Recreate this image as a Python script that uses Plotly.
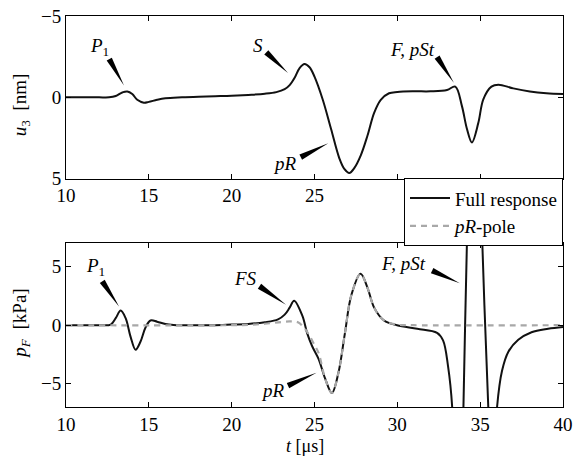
import math
import plotly.graph_objects as go

# top panel: vertical displacement u3 [nm]
t_u3 = [10, 11, 12, 12.6, 13.0, 13.4, 13.7, 14.0, 14.3, 14.7, 15.0, 15.5, 16, 17, 18, 19, 20, 21, 22,
        22.7, 23.2, 23.5, 23.8, 24.1, 24.4, 24.7, 25.0, 25.5, 26.0, 26.5, 26.8, 27.1, 27.4, 27.8, 28.2,
        28.6, 29.0, 29.5, 30.0, 31, 32, 33, 33.5, 33.9, 34.2, 34.5, 34.89, 35.19, 35.68, 36.1, 37, 38,
        39, 40]
u3 = [0, 0, 0, 0, -0.08, -0.3, -0.36, -0.2, 0.15, 0.33, 0.28, 0.15, 0.06, 0.0, -0.04, -0.07, -0.1, -0.15,
      -0.22, -0.32, -0.5, -0.75, -1.2, -1.8, -2.05, -1.85, -1.27, 0.15, 1.95, 3.75, 4.4, 4.65, 4.35, 3.55,
      2.35, 0.95, 0.15, -0.25, -0.33, -0.37, -0.37, -0.45, -0.66, 0.54, 1.93, 2.77, 1.57, 0.12, -0.66,
      -0.78, -0.55, -0.36, -0.25, -0.2]

# bottom panel: fluid pressure pF [kPa], full response
t_pf = [10, 12, 12.7, 13.0, 13.3, 13.6, 13.9, 14.2, 14.5, 14.8, 15.1, 15.5, 16, 16.5, 17, 18, 19, 20, 21, 22,
        22.8, 23.2, 23.5, 23.77, 24.27, 24.56, 24.86, 25.25, 25.65, 26.05, 26.44, 26.83, 27.23, 27.78,
        28.2, 28.6, 29.2, 29.98, 31.2, 32.4, 32.76, 33.06, 33.31, 33.55, 33.8, 33.99, 34.2, 34.45, 34.9,
        35.13, 35.49, 35.7, 35.85, 36.02, 36.32, 36.71, 37.3, 38.1, 39.1, 40]
pf = [0, 0, 0.05, 0.6, 1.25, 0.6, -1.0, -2.1, -1.4, -0.2, 0.4, 0.3, 0.1, 0.02, 0, 0, 0, 0.05, 0.1, 0.25,
      0.5, 0.9, 1.5, 2.1, 0.8, -0.7, -1.8, -2.9, -4.6, -5.8, -4.1, -0.75, 2.6, 4.4,
      3.2, 1.5, 0.4, 0.0, -0.3, -0.65, -1.3, -3.5, -7, -20, -20, -7, 7, 20, 20,
      7, -7, -14, -12, -7, -3.9, -2.25, -1.25, -0.6, -0.3, -0.15]

# bottom panel: pR-pole contribution
t_pole = [10, 20, 21, 22, 23, 23.5, 24.0, 24.47, 25.0, 25.25, 25.65, 26.05, 26.44, 26.83, 27.23, 27.78,
          28.2, 28.6, 29.2, 29.98, 31, 40]
pole = [0, 0, 0.03, 0.12, 0.27, 0.32, 0.25, -0.4, -1.7, -2.4, -4.6, -5.8, -4.1, -0.75, 2.6, 4.4,
        3.2, 1.5, 0.4, 0.05, 0, 0]

W, H = 579, 457
ML, MR, MT, MB = 66, 6, 8, 50
PW, PH = W - ML - MR, H - MT - MB
TOP_DOM = [0.584, 1.0]
BOT_DOM = [0.0, 0.4185]
XR = [10, 40]
TOP_R = [5, -5]
BOT_R = [-7, 7]
FONT = "Liberation Serif"


def px(t, v, dom, yr):
    x = ML + (t - XR[0]) / (XR[1] - XR[0]) * PW
    ytop = MT + (1 - dom[1]) * PH
    ybot = MT + (1 - dom[0]) * PH
    y = ybot - (v - yr[0]) / (yr[1] - yr[0]) * (ybot - ytop)
    return x, y


def data(x, y, dom, yr):
    t = XR[0] + (x - ML) / PW * (XR[1] - XR[0])
    ytop = MT + (1 - dom[1]) * PH
    ybot = MT + (1 - dom[0]) * PH
    v = yr[0] + (ybot - y) / (ybot - ytop) * (yr[1] - yr[0])
    return t, v


def wedge(tail, tip, dom, yr, xref, yref, hw=3.0):
    x1, y1 = px(*tail, dom, yr)
    x2, y2 = px(*tip, dom, yr)
    d = math.hypot(x2 - x1, y2 - y1)
    nx, ny = -(y2 - y1) / d * hw, (x2 - x1) / d * hw
    pts = [data(x1 + nx, y1 + ny, dom, yr), data(x1 - nx, y1 - ny, dom, yr), tip]
    path = "M {},{} L {},{} L {},{} Z".format(*[c for p in pts for c in p])
    return dict(type="path", path=path, xref=xref, yref=yref,
                fillcolor="black", line=dict(width=0))


fig = go.Figure()

fig.add_trace(go.Scatter(x=t_u3, y=u3, mode="lines", line=dict(color="#111", width=2, shape="spline"),
                         name="Full response", xaxis="x", yaxis="y", showlegend=True))
fig.add_trace(go.Scatter(x=t_pf, y=pf, mode="lines", line=dict(color="#111", width=2, shape="spline"),
                         name="Full response", xaxis="x2", yaxis="y2", showlegend=False))
fig.add_trace(go.Scatter(x=t_pole, y=pole, mode="lines",
                         line=dict(color="#a8a8a8", width=2.2, dash="6px,5px", shape="spline"),
                         name="<i>pR</i>-pole", xaxis="x2", yaxis="y2", showlegend=True))

# labels with wedge pointers: (text, label pos, tail, tip, panel)
labels = [
    ("<i>P</i><sub>1</sub>", (12.0, -3.07), (12.61, -2.35), (13.5, -0.72), "top"),
    ("<i>S</i>", (21.56, -3.19), (22.09, -2.77), (23.4, -1.5), "top"),
    ("<i>F, pSt</i>", (30.92, -2.95), (32.4, -2.47), (33.41, -0.9), "top"),
    ("<i>pR</i>", (23.22, 4.04), (24.17, 3.67), (25.83, 2.83), "top"),
    ("<i>P</i><sub>1</sub>", (11.78, 5.0), (12.19, 3.75), (13.2, 1.6), "bot"),
    ("<i>FS</i>", (20.85, 4.0), (21.68, 3.33), (23.28, 1.75), "bot"),
    ("<i>pR</i>", (22.5, -5.6), (23.4, -5.17), (25.12, -4.08), "bot"),
    ("<i>F, pSt</i>", (30.4, 5.25), (32.1, 4.67), (33.77, 3.58), "bot"),
]

shapes = []
annotations = []
for text, pos, tail, tip, panel in labels:
    if panel == "top":
        dom, yr, xr_, yr_ = TOP_DOM, TOP_R, "x", "y"
    else:
        dom, yr, xr_, yr_ = BOT_DOM, BOT_R, "x2", "y2"
    shapes.append(wedge(tail, tip, dom, yr, xr_, yr_))
    annotations.append(dict(text=text, x=pos[0], y=pos[1], xref=xr_, yref=yr_, showarrow=False,
                            font=dict(family=FONT, size=19, color="black")))

title_font = dict(family=FONT, size=19, color="black")
annotations += [
    dict(text="<i>u</i><sub>3</sub>  [nm]", x=-0.0907, y=0.774, xref="paper", yref="paper",
         xanchor="center", yanchor="middle", textangle=-90, showarrow=False, font=title_font),
    dict(text="<i>p<sub>F</sub></i>  [kPa]", x=-0.0907, y=0.213, xref="paper", yref="paper",
         xanchor="center", yanchor="middle", textangle=-90, showarrow=False, font=title_font),
    dict(text="<i>t</i> [μs]", x=0.481, y=-0.099, xref="paper", yref="paper",
         xanchor="center", yanchor="middle", showarrow=False,
         font=dict(family=FONT, size=18, color="black")),
]

axis_common = dict(showline=True, linecolor="black", linewidth=1, mirror="ticks", ticks="inside",
                   ticklen=5, tickcolor="black", showgrid=False, zeroline=False,
                   ticklabeloverflow="allow",
                   tickfont=dict(family=FONT, size=19, color="black"))

xticks = [10, 15, 20, 25, 30, 35, 40]

fig.update_layout(
    width=W, height=H,
    margin=dict(l=ML, r=MR, t=MT, b=MB),
    paper_bgcolor="white", plot_bgcolor="white",
    font=dict(family=FONT, color="black"),
    xaxis=dict(domain=[0, 1], range=XR, anchor="y", tickvals=xticks,
               ticktext=["10", "15", "20", "25", " ", " ", " "], **axis_common),
    yaxis=dict(domain=TOP_DOM, range=TOP_R, anchor="x", tickvals=[-5, 0, 5],
               ticktext=["−5", "0", "5"], **axis_common),
    xaxis2=dict(domain=[0, 1], range=XR, anchor="y2", tickvals=xticks, **axis_common),
    yaxis2=dict(domain=BOT_DOM, range=BOT_R, anchor="x2", tickvals=[-5, 0, 5],
                ticktext=["−5", "0", "5"], **axis_common),
    legend=dict(x=1, y=0.585, xanchor="right", yanchor="top", bgcolor="white",
                bordercolor="black", borderwidth=1,
                font=dict(family=FONT, size=19, color="black"),
                tracegroupgap=0, itemwidth=40),
    shapes=shapes,
    annotations=annotations,
)

fig.write_html("out.html", config={"displayModeBar": False},
               post_script="document.body.style.margin='0';")
